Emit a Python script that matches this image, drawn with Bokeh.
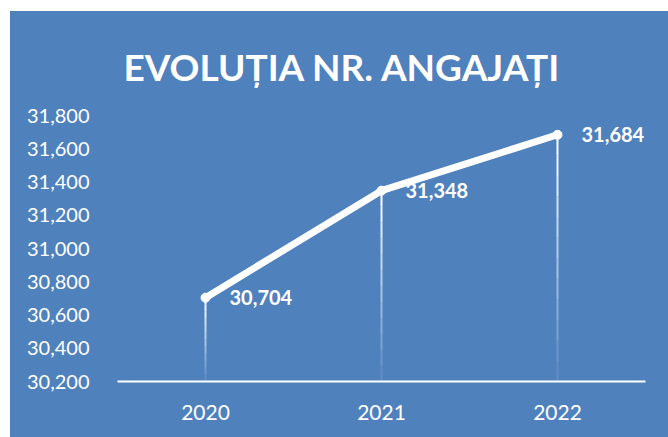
from bokeh.plotting import figure
from bokeh.models import ColumnDataSource, FixedTicker, NumeralTickFormatter
from bokeh.embed import file_html
from bokeh.resources import INLINE
from bokeh.core.properties import value

# Data
years = ["2020", "2021", "2022"]
employees = [30704, 31348, 31684]
labels = ["30,704", "31,348", "31,684"]
y_ticks = [30200, 30400, 30600, 30800, 31000, 31200, 31400, 31600, 31800]
title_text = "EVOLUȚIA NR. ANGAJAȚI"

BLUE = "#4F81BD"
FONT = "Lato"
y_min, y_max = 30200, 31800

p = figure(x_range=years, y_range=(y_min, y_max), width=658, height=426,
           output_backend="svg", toolbar_location=None, title=title_text,
           min_border_left=107, min_border_right=23, min_border_top=104,
           min_border_bottom=56)
p.margin = (11, 0, 0, 10)
p.styles = {"background-color": BLUE}
p.background_fill_color = BLUE
p.border_fill_color = BLUE
p.outline_line_color = None
p.xgrid.grid_line_color = None
p.ygrid.grid_line_color = None

p.title.text_color = "white"
p.title.text_font = FONT
p.title.text_font_size = "37px"
p.title.text_font_style = "bold"
p.title.align = "left"
p.title.offset = 6
p.title.vertical_align = "top"
p.title.standoff = 50

# Drop lines with fading alpha (gradient effect)
n_seg = 12
xs0, ys0, ys1, alphas = [], [], [], []
for yr, v in zip(years, employees):
    for i in range(n_seg):
        top = v - (v - y_min) * i / n_seg
        bot = v - (v - y_min) * (i + 1) / n_seg
        xs0.append(yr)
        ys0.append(top)
        ys1.append(bot)
        alphas.append(1.0 - 0.9 * i / (n_seg - 1))
p.segment(x0=xs0, y0=ys0, x1=xs0, y1=ys1, line_color="white",
          line_width=2, line_alpha=alphas)

src = ColumnDataSource(dict(x=years, y=employees, lab=labels))
p.line("x", "y", source=src, line_color="white", line_width=7,
       line_cap="round", line_join="round")
p.scatter("x", "y", source=src, size=9, color="white")
p.text("x", "y", text="lab", source=src, x_offset=24, text_align="left",
       text_baseline="middle", text_color="white", text_font=value(FONT),
       text_font_size="20px", text_font_style="bold")

# Axes
p.yaxis.ticker = FixedTicker(ticks=y_ticks)
p.yaxis.formatter = NumeralTickFormatter(format="0,0")
p.yaxis.axis_line_color = None
p.yaxis.major_tick_line_color = None
p.yaxis.minor_tick_line_color = None
p.yaxis.major_label_text_color = "white"
p.yaxis.major_label_text_font = FONT
p.yaxis.major_label_text_font_size = "20px"
p.yaxis.major_label_standoff = 22

p.xaxis.axis_line_color = "white"
p.xaxis.axis_line_width = 2
p.xaxis.major_tick_line_color = None
p.xaxis.minor_tick_line_color = None
p.xaxis.major_label_text_color = "white"
p.xaxis.major_label_text_font = FONT
p.xaxis.major_label_text_font_size = "21px"
p.xaxis.major_label_standoff = 17

p.x_range.range_padding = 0

open("out.html", "w").write(file_html(p, INLINE))
